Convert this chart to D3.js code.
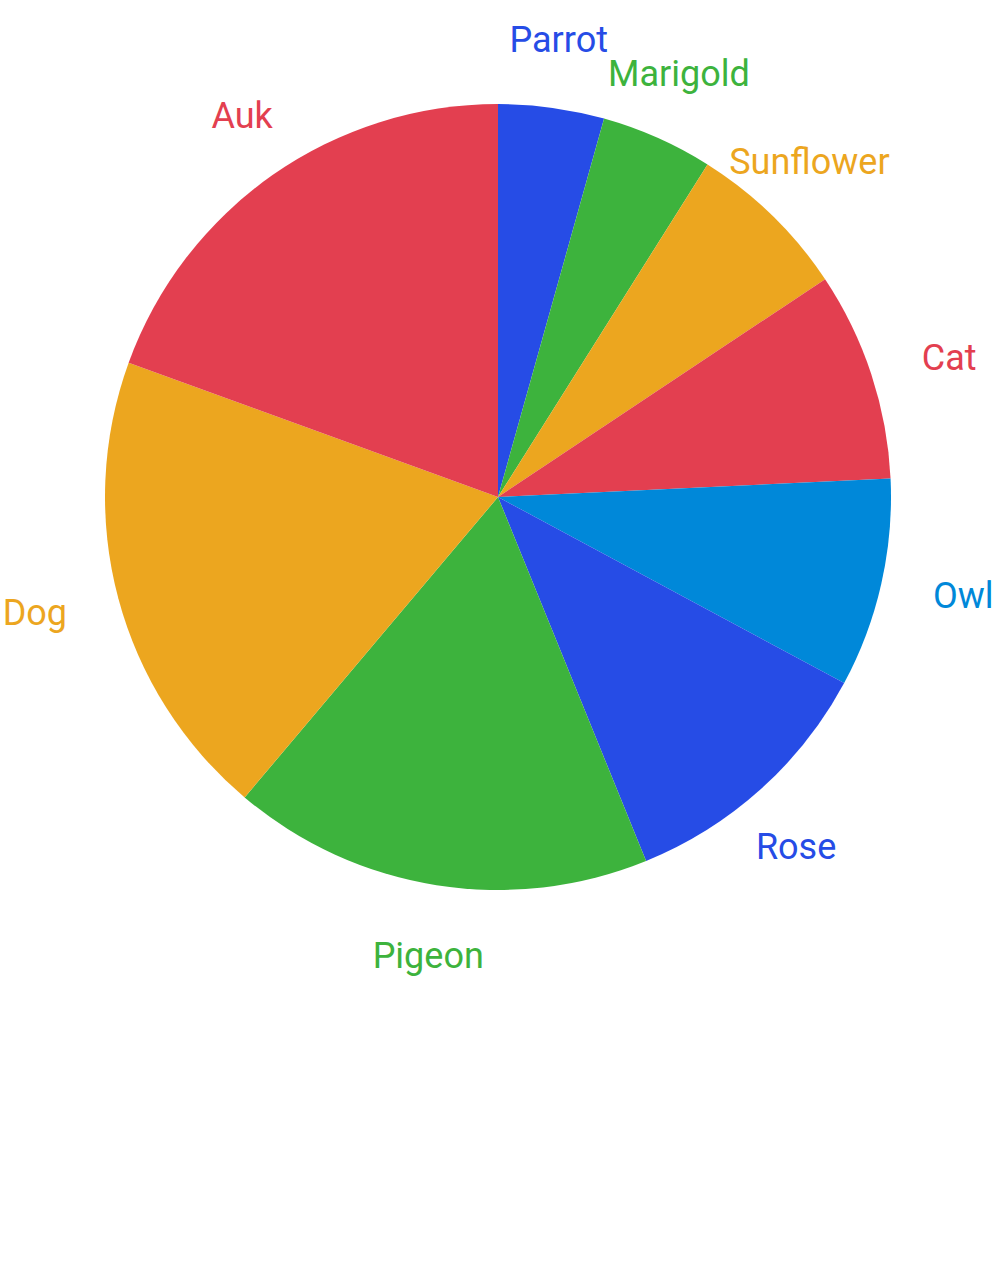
<!DOCTYPE html>
<html>
<head>
<meta charset="utf-8">
<script src="https://cdn.jsdelivr.net/npm/d3@7"></script>
<style>
  html, body { margin: 0; padding: 0; background: #fff; }
  svg text { font-family: Roboto, "Noto Sans", sans-serif; }
</style>
</head>
<body>
<div id="chart"></div>
<script>
// slice names, clockwise from 12 o'clock
const categories = ['Parrot', 'Marigold', 'Sunflower', 'Cat', 'Owl', 'Rose', 'Pigeon', 'Dog', 'Auk'];
// share of the whole (percent)
const values = [4.35, 4.6, 6.7, 8.6, 8.6, 11.0, 17.3, 19.4, 19.45];
// palette cycles every five slices
const palette = ['#264ce6', '#3db33d', '#eca61f', '#e33f50', '#0088d9'];

function drawPie() {
    const width = 996, height = 1287;
    const cx = 498, cy = 497;
    const radius = 393;
    const labelRadius = 446;

    const svg = d3.select('#chart')
        .append('svg')
        .attr('width', width)
        .attr('height', height);

    const g = svg.append('g')
        .attr('transform', `translate(${cx},${cy})`);

    const data = categories.map((name, i) => ({ name, value: values[i] }));

    const color = d3.scaleOrdinal()
        .domain(categories)
        .range(categories.map((d, i) => palette[i % palette.length]));

    // keep the given order, no sorting
    const pie = d3.pie()
        .sort(null)
        .value(d => d.value);

    const arc = d3.arc()
        .innerRadius(0)
        .outerRadius(radius);

    const arcs = pie(data);

    g.selectAll('path.slice')
        .data(arcs)
        .join('path')
        .attr('class', 'slice')
        .attr('d', arc)
        .attr('fill', d => color(d.data.name));

    // labels sit just outside the rim; side ones are anchored at their near edge
    g.selectAll('text.label')
        .data(arcs)
        .join('text')
        .attr('class', 'label')
        .attr('font-size', '36px')
        .attr('fill', d => color(d.data.name))
        .each(function(d) {
            const a = (d.startAngle + d.endAngle) / 2;
            const s = Math.sin(a), c = Math.cos(a);
            const x = labelRadius * s;
            const y = -labelRadius * c;
            const t = d3.select(this).attr('x', x).attr('y', y);
            if (Math.abs(c) < 0.5) {
                t.attr('text-anchor', s > 0 ? 'start' : 'end').attr('dy', '0.35em');
            } else {
                t.attr('text-anchor', 'middle').attr('dy', c > 0 ? '-0.1em' : '0.85em');
            }
        })
        .text(d => d.data.name);
}

drawPie();
</script>
</body>
</html>
